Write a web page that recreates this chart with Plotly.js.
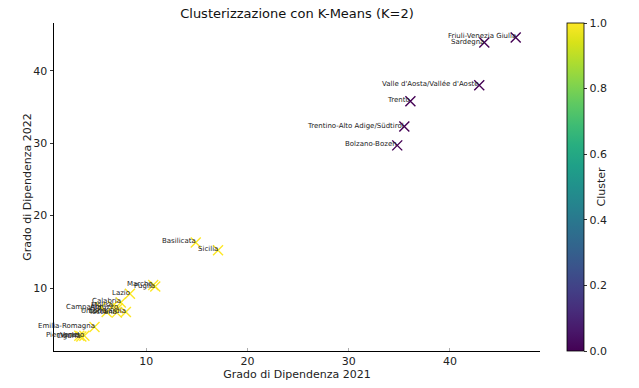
<!DOCTYPE html>
<html>
<head>
<meta charset="utf-8">
<script src="https://cdn.plot.ly/plotly-3.0.1.min.js"></script>
<style>html,body{margin:0;padding:0;background:#fff;}#chart{width:639px;height:388px;}</style>
</head>
<body>
<div id="chart"></div>
<script>
// Regions
const regions = [
  "Friuli-Venezia Giulia", "Sardegna", "Valle d'Aosta/Vallée d'Aoste", "Trento",
  "Trentino-Alto Adige/Südtirol", "Bolzano-Bozen",
  "Basilicata", "Sicilia", "Marche", "Puglia", "Lazio", "Calabria",
  "Molise", "Campania", "Abruzzo", "Umbria", "Toscana", "Lombardia",
  "Emilia-Romagna", "Piemonte", "Liguria", "Veneto"
];
// Grado di Dipendenza 2021
const dep2021 = [
  46.5, 43.4, 42.9, 36.1,
  35.5, 34.8,
  14.9, 17.1, 10.7, 10.9, 8.4, 7.5,
  6.7, 5.5, 7.2, 6.1, 7.1, 8.0,
  4.9, 3.4, 3.6, 3.9
];
// Grado di Dipendenza 2022
const dep2022 = [
  44.6, 43.9, 38.0, 35.8,
  32.3, 29.7,
  16.3, 15.2, 10.4, 10.2, 9.2, 8.0,
  7.5, 7.3, 7.2, 6.7, 6.6, 6.7,
  4.6, 3.4, 3.3, 3.4
];
// Cluster assignment (K=2)
const cluster = [
  0, 0, 0, 0, 0, 0,
  1, 1, 1, 1, 1, 1,
  1, 1, 1, 1, 1, 1,
  1, 1, 1, 1
];
const xTicks = [10, 20, 30, 40];
const yTicks = [10, 20, 30, 40];
const cbTicks = [0, 0.2, 0.4, 0.6, 0.8, 1.0];
const cbTickText = ["0.0", "0.2", "0.4", "0.6", "0.8", "1.0"];

const FONT = "DejaVu Sans, sans-serif";
const TXT = "#222";

const trace = {
  type: "scatter",
  mode: "markers",
  x: dep2021,
  y: dep2022,
  text: regions,
  hoverinfo: "text",
  marker: {
    symbol: "x-thin",
    size: 10,
    color: cluster,
    colorscale: "Viridis",
    cmin: 0,
    cmax: 1,
    line: {width: 1.4, color: cluster, colorscale: "Viridis", cmin: 0, cmax: 1},
    showscale: true,
    colorbar: {
      x: 1.0554, xanchor: "left", xpad: 0,
      y: 0.5, yanchor: "middle", ypad: 0,
      len: 1, lenmode: "fraction",
      thickness: 17, thicknessmode: "pixels",
      outlinewidth: 0.8, outlinecolor: "#000",
      ticks: "outside", ticklen: 3.5, tickwidth: 0.8, tickcolor: "#000",
      tickvals: cbTicks, ticktext: cbTickText,
      tickfont: {family: FONT, size: 11, color: TXT},
      title: {text: "Cluster", side: "right", font: {family: FONT, size: 11, color: TXT}}
    }
  }
};

const annotations = regions.map((r, i) => ({
  x: dep2021[i], y: dep2022[i], xref: "x", yref: "y",
  text: r, showarrow: false,
  xanchor: "right", yanchor: "middle",
  xshift: 2, yshift: 1,
  font: {family: FONT, size: 7, color: TXT}
}));

// y-axis title drawn as annotation for exact placement
annotations.push({
  text: "Grado di Dipendenza 2022",
  xref: "paper", yref: "paper", x: (26.7 - 54) / 486, y: 0.5,
  xanchor: "center", yanchor: "middle", textangle: -90, showarrow: false,
  font: {family: FONT, size: 11, color: TXT}
});

const layout = {
  width: 639, height: 388,
  margin: {l: 54, r: 99, t: 23, b: 37, pad: 0},
  paper_bgcolor: "#fff", plot_bgcolor: "#fff",
  showlegend: false,
  title: {
    text: "Clusterizzazione con K-Means (K=2)",
    x: 0.5, xref: "paper", xanchor: "center",
    y: 1 - 13/388, yref: "container", yanchor: "middle",
    font: {family: FONT, size: 13, color: "#111"}
  },
  xaxis: {
    range: [0.9, 48.9],
    showgrid: false, zeroline: false,
    showline: true, linecolor: "#000", linewidth: 1, mirror: false,
    ticks: "inside", ticklen: 3.5, tickwidth: 0.8, tickcolor: "#999",
    tickvals: xTicks,
    tickfont: {family: FONT, size: 11, color: TXT},
    title: {text: "Grado di Dipendenza 2021", standoff: 2, font: {family: FONT, size: 11, color: TXT}}
  },
  yaxis: {
    range: [1.3, 46.6],
    showgrid: false, zeroline: false,
    showline: true, linecolor: "#000", linewidth: 1, mirror: false,
    ticks: "outside", ticklen: 3.5, tickwidth: 0.8, tickcolor: "#000",
    tickvals: yTicks,
    tickfont: {family: FONT, size: 11, color: TXT}
  },
  annotations: annotations
};

Plotly.newPlot("chart", [trace], layout, {displayModeBar: false, staticPlot: true});
</script>
</body>
</html>
